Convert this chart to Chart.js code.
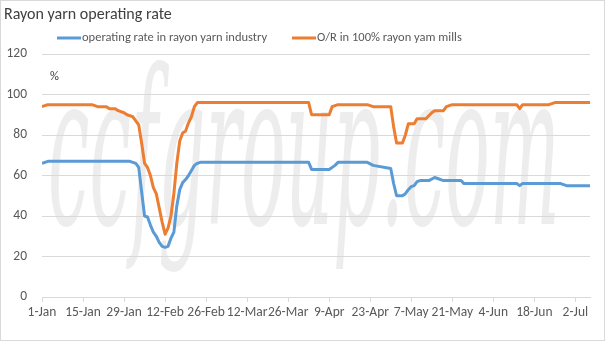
<!DOCTYPE html>
<html>
<head>
<meta charset="utf-8">
<script src="https://cdn.jsdelivr.net/npm/chart.js@4.4.1/dist/chart.umd.min.js"></script>
<style>
    html, body { margin: 0; padding: 0; background: #fff; }
    canvas { display: block; }
</style>
</head>
<body>
<canvas id="rateChart" width="605" height="341"></canvas>
<script>
// Series data: day offset from 1-Jan, operating rate (%)
const seriesLabels = ['operating rate in rayon yarn industry', 'O/R in 100% rayon yam mills'];

const industryDays = [0, 2, 30, 32, 33, 34, 35, 36, 37, 38, 39, 40, 41, 42, 43, 44, 45, 46, 47, 48, 49, 50, 51, 52, 53, 54,
    91, 92, 98, 100, 101, 111, 113, 119, 120, 121, 123, 124, 125, 126, 127, 128, 129, 132, 134, 135, 137, 143, 144,
    162, 163, 164, 177, 179, 187];
const industryRates = [66, 67, 67, 66, 64, 52, 40, 39.5, 35.5, 32, 30, 27, 25, 24.5, 25, 29, 32, 45, 53, 56.5, 58, 60, 62.5, 65, 66, 66.5,
    66.5, 63, 63, 65, 66.5, 66.5, 65, 63.5, 56, 50, 50, 51, 53, 54.5, 55, 57, 57.5, 57.5, 59, 58.5, 57.5, 57.5, 56,
    56, 55, 56, 56, 55, 55];

const millDays = [0, 2, 17, 19, 22, 23, 25, 26, 28, 29, 31, 32, 33, 34, 35, 36, 37, 38, 39, 40, 41, 42, 43, 44, 45, 46, 47, 48, 49, 50, 51, 52, 53,
    91, 92, 98, 99, 101, 111, 113, 119, 120, 121, 123, 124, 125, 127, 128, 131, 133, 134, 137, 138, 140,
    162, 163, 164, 173, 175, 187];
const millRates = [94, 95, 95, 94, 94, 93, 93, 92, 91, 90, 89, 87, 85, 76, 66, 64, 60, 54, 51, 44, 37, 31, 34, 40, 51, 66, 77, 81, 82, 86, 89, 94, 96,
    96, 90, 90, 94, 95, 95, 94, 94, 84, 76, 76, 80, 85.5, 85.5, 88, 88, 91, 92, 92, 94, 95,
    95, 93, 95, 95, 96, 96];

// X axis labels, one every 14 days
const tickLabels = ['1-Jan', '15-Jan', '29-Jan', '12-Feb', '26-Feb', '12-Mar', '26-Mar', '9-Apr', '23-Apr', '7-May', '21-May', '4-Jun', '18-Jun', '2-Jul'];
const tickStep = 14;
const lastDay = 187;

const FONT = 'Carlito, Lato, "Liberation Sans", sans-serif';
const TEXT_COLOR = '#595959';
const GRID_COLOR = '#d9d9d9';
const BLUE = '#5B9BD5';
const ORANGE = '#ED7D31';

function toPoints(days, values) {
    return days.map((d, i) => ({ x: d, y: values[i] }));
}

// Background, watermark, frame, title and legend
const overlay = {
    id: 'overlay',
    beforeDraw(chart) {
        const ctx = chart.ctx;
        ctx.save();
        ctx.fillStyle = '#fff';
        ctx.fillRect(0, 0, chart.width, chart.height);

        // faint site watermark behind the plot
        ctx.fillStyle = 'rgba(200, 200, 200, 0.33)';
        ctx.font = 'italic 215px "DejaVu Serif", "Liberation Serif", serif';
        ctx.textBaseline = 'alphabetic';
        const text = 'ccfgroup.com';
        const w = ctx.measureText(text).width;
        ctx.translate(48, 224);
        ctx.scale(512 / w, 1);
        ctx.fillText(text, 0, 0);
        ctx.restore();

        ctx.save();
        ctx.strokeStyle = GRID_COLOR;
        ctx.lineWidth = 1;
        ctx.strokeRect(0.5, 0.5, chart.width - 1, chart.height - 1);
        ctx.restore();
    },
    afterDraw(chart) {
        const ctx = chart.ctx;
        ctx.save();
        ctx.textBaseline = 'middle';
        ctx.textAlign = 'left';

        ctx.fillStyle = '#404040';
        ctx.font = '16px ' + FONT;
        ctx.fillText('Rayon yarn operating rate', 4, 15);

        // legend
        const legendX = [57, 292];
        const legendY = 38;
        ctx.font = '12.5px ' + FONT;
        chart.data.datasets.forEach((ds, i) => {
            ctx.strokeStyle = ds.borderColor;
            ctx.lineWidth = 3;
            ctx.beginPath();
            ctx.moveTo(legendX[i], legendY);
            ctx.lineTo(legendX[i] + 24, legendY);
            ctx.stroke();
            ctx.fillStyle = TEXT_COLOR;
            ctx.fillText(ds.label, legendX[i] + 25, legendY);
        });

        // unit label
        ctx.fillStyle = '#404040';
        ctx.font = '12.5px ' + FONT;
        ctx.fillText('%', 50, 77);
        ctx.restore();
    }
};

const chartEl = document.getElementById('rateChart');
new Chart(chartEl, {
    type: 'line',
    data: {
        datasets: [
            {
                label: seriesLabels[0],
                data: toPoints(industryDays, industryRates),
                borderColor: BLUE,
                backgroundColor: BLUE,
                borderWidth: 3,
                pointRadius: 0,
                tension: 0,
                borderJoinStyle: 'round'
            },
            {
                label: seriesLabels[1],
                data: toPoints(millDays, millRates),
                borderColor: ORANGE,
                backgroundColor: ORANGE,
                borderWidth: 3,
                pointRadius: 0,
                tension: 0,
                borderJoinStyle: 'round'
            }
        ]
    },
    options: {
        responsive: false,
        animation: false,
        devicePixelRatio: 1,
        layout: {
            padding: { top: 54, right: 15, bottom: 0, left: 0 }
        },
        plugins: {
            legend: { display: false },
            title: { display: false },
            tooltip: { enabled: false }
        },
        scales: {
            x: {
                type: 'linear',
                min: 0,
                max: lastDay,
                afterBuildTicks: axis => {
                    axis.ticks = tickLabels.map((_, i) => ({ value: i * tickStep }));
                },
                afterFit: axis => { axis.height = 44; },
                ticks: {
                    autoSkip: false,
                    maxRotation: 0,
                    padding: 3,
                    color: TEXT_COLOR,
                    font: { family: FONT, size: 13.5 },
                    callback: (value, index) => tickLabels[index]
                },
                grid: {
                    drawOnChartArea: false,
                    drawTicks: true,
                    tickLength: 5,
                    color: GRID_COLOR
                },
                border: { color: GRID_COLOR }
            },
            y: {
                min: 0,
                max: 120,
                afterFit: axis => { axis.width = 42; },
                ticks: {
                    stepSize: 20,
                    padding: 15,
                    color: TEXT_COLOR,
                    font: { family: FONT, size: 13.5 }
                },
                grid: {
                    color: GRID_COLOR,
                    drawTicks: false
                },
                border: { display: false }
            }
        }
    },
    plugins: [overlay]
});
</script>
</body>
</html>
